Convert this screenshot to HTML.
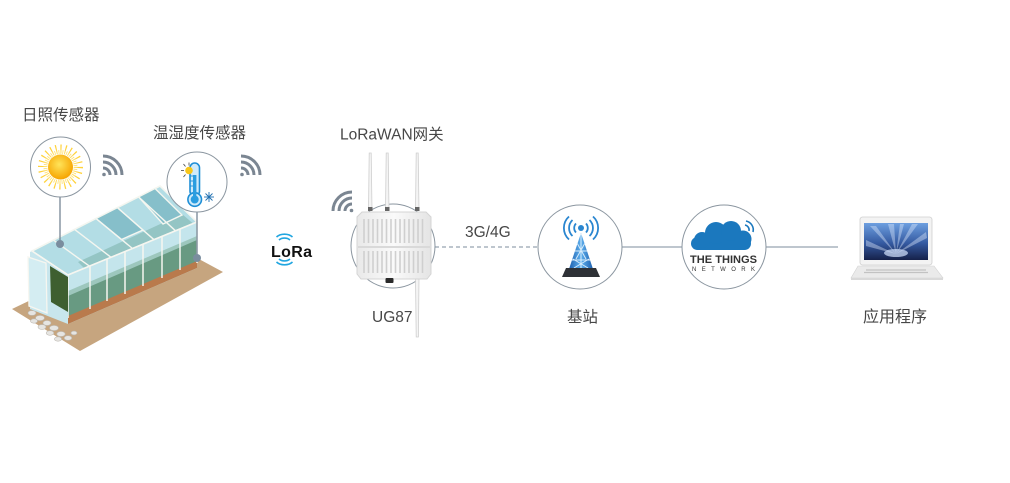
<!DOCTYPE html>
<html><head><meta charset="utf-8">
<style>
html,body{margin:0;padding:0;background:#fff;}
body{width:1010px;height:483px;overflow:hidden;}
svg{display:block;}
.t{font-family:"Liberation Sans","Noto Sans CJK SC",sans-serif;fill:#474747;font-size:15.5px;}
</style></head><body>
<svg width="1010" height="483" viewBox="0 0 1010 483" xmlns="http://www.w3.org/2000/svg">
<defs>
<radialGradient id="sunG" cx="0.45" cy="0.4" r="0.6"><stop offset="0" stop-color="#ffe45a"/><stop offset="1" stop-color="#f6a400"/></radialGradient>
<linearGradient id="scr" x1="0" y1="0" x2="0" y2="1"><stop offset="0" stop-color="#6d9fe0"/><stop offset="0.55" stop-color="#3459a0"/><stop offset="1" stop-color="#16214a"/></linearGradient>
<linearGradient id="tw" x1="0" y1="0" x2="1" y2="0"><stop offset="0" stop-color="#1d5fae"/><stop offset="0.5" stop-color="#5fb0ee"/><stop offset="1" stop-color="#1d5fae"/></linearGradient>
<linearGradient id="gw" x1="0" y1="0" x2="1" y2="0"><stop offset="0" stop-color="#e9e9e9"/><stop offset="0.5" stop-color="#fafafa"/><stop offset="1" stop-color="#e4e4e4"/></linearGradient>
</defs>

<!-- ===== Greenhouse ===== -->
<polygon points="12,309 80,351 223,272 160,238" fill="#c6a57f"/>
<g fill="#e6e5e2" stroke="#bdb9b2" stroke-width="0.6">
<ellipse cx="32" cy="313" rx="4" ry="2.4"/><ellipse cx="40" cy="318" rx="4.5" ry="2.6"/>
<ellipse cx="34" cy="321" rx="3.5" ry="2.2"/><ellipse cx="47" cy="323" rx="4" ry="2.5"/>
<ellipse cx="42" cy="327" rx="4" ry="2.4"/><ellipse cx="54" cy="328" rx="4.5" ry="2.6"/>
<ellipse cx="50" cy="333" rx="3.8" ry="2.3"/><ellipse cx="61" cy="334" rx="4.2" ry="2.5"/>
<ellipse cx="58" cy="339" rx="3.6" ry="2.2"/><ellipse cx="68" cy="338" rx="3.8" ry="2.3"/>
<ellipse cx="74" cy="333" rx="3" ry="1.9"/>
</g>
<!-- interior silhouette -->
<polygon points="30,252 160,186 197,222 197,268 68,324 30,309" fill="#c9e6ec"/>
<polygon points="78,262 182,214 196,226 92,276" fill="#4f8a6a" opacity="0.85"/>
<!-- roof -->
<polygon points="32,251 160,186 197,222 68,275" fill="#a9d8e2" fill-opacity="0.7" stroke="#f4f6f0" stroke-width="1.6"/>
<polygon points="96,218.5 117.4,207.6 143,230 121.5,239.5" fill="#86bfca" stroke="#f4f6f0" stroke-width="1.4"/>
<polygon points="138.6,196.9 155,188.5 182,215 163,224" fill="#86bfca" stroke="#f4f6f0" stroke-width="1.4"/>
<g stroke="#f4f6f0" stroke-width="1.4">
<line x1="53.4" y1="240.1" x2="89.5" y2="266.2"/>
<line x1="74.6" y1="229.4" x2="111" y2="257.3"/>
<line x1="96" y1="218.5" x2="132.5" y2="248.5"/>
<line x1="117.4" y1="207.6" x2="154" y2="239.7"/>
<line x1="138.6" y1="196.9" x2="175.5" y2="230.8"/>
</g>
<!-- front wall -->
<polygon points="68,275 197,222 197,268 68,324" fill="#bfe2e9"/>
<polygon points="68,293 197,238 197,262 68,317" fill="#4a8262"/>
<polygon points="68,291 197,236 197,240 68,296" fill="#8dbcae"/>
<polygon points="68,275 197,222 197,268 68,324" fill="#d8f1f6" opacity="0.22"/>
<polygon points="68,316 197,261 197,268 68,324" fill="#b97a4c"/>
<g stroke="#f6f6f0" stroke-width="1.5">
<line x1="68" y1="275" x2="68" y2="318"/>
<line x1="90" y1="266" x2="90" y2="309"/>
<line x1="107" y1="259" x2="107" y2="301"/>
<line x1="125" y1="251.6" x2="125" y2="294"/>
<line x1="143" y1="244.2" x2="143" y2="286"/>
<line x1="162" y1="236.4" x2="162" y2="278"/>
<line x1="180" y1="229" x2="180" y2="270"/>
<line x1="197" y1="222" x2="197" y2="263"/>
<line x1="68" y1="275" x2="197" y2="222"/>
</g>
<!-- gable end -->
<polygon points="32,251 68,275 68,320 30,309" fill="#c8e6ed"/>
<polygon points="50,266 68,277 68,312 51,302" fill="#3e5f30"/>
<polygon points="28,257 46,263 47,313 29,306" fill="#d4edf2" stroke="#f6f6f0" stroke-width="1.3"/>
<line x1="32" y1="251" x2="68" y2="275" stroke="#f6f6f0" stroke-width="1.6"/>

<!-- sensor connectors -->
<g stroke="#6a7c8c" stroke-width="1.2">
<line x1="60" y1="197" x2="60" y2="244"/>
<line x1="197" y1="212" x2="197" y2="258"/>
</g>
<circle cx="60" cy="244" r="4" fill="#7a8d9e"/>
<circle cx="197" cy="258" r="4" fill="#7a8d9e"/>

<!-- sun circle -->
<circle cx="60.5" cy="167" r="30" fill="#fff" stroke="#8b96a0" stroke-width="1"/>
<circle cx="60.5" cy="167" r="18" fill="none" stroke="#ffd23a" stroke-width="9" stroke-dasharray="1.1 3.6"/>
<circle cx="60.5" cy="167" r="15" fill="none" stroke="#ffe070" stroke-width="4" stroke-dasharray="0.8 1.16"/>
<circle cx="60.5" cy="167" r="12.5" fill="url(#sunG)"/>

<!-- thermometer circle -->
<circle cx="197" cy="182" r="30" fill="#fff" stroke="#8b96a0" stroke-width="1"/>
<rect x="190" y="163" width="9.5" height="33" rx="4.75" fill="#cfeafa" stroke="#1f8fd6" stroke-width="1.6"/>
<circle cx="194.7" cy="199.5" r="6.8" fill="#cfeafa" stroke="#1f8fd6" stroke-width="1.6"/>
<rect x="193" y="175" width="3.4" height="24" fill="#2a9de0"/>
<circle cx="194.7" cy="199.5" r="4" fill="#2a9de0"/>
<g stroke="#1f8fd6" stroke-width="0.9"><line x1="190" y1="176" x2="193" y2="176"/><line x1="190" y1="181" x2="193" y2="181"/><line x1="190" y1="186" x2="193" y2="186"/></g>
<circle cx="189" cy="170.5" r="3.8" fill="#f7c61a"/>
<g stroke="#444" stroke-width="0.8"><line x1="184" y1="170.5" x2="181" y2="170.5"/><line x1="185.5" y1="166.5" x2="183.5" y2="164"/><line x1="189" y1="165.5" x2="189" y2="162.5"/><line x1="185.5" y1="174.5" x2="183.5" y2="177"/></g>
<g stroke="#1f6fb0" stroke-width="0.9"><line x1="204" y1="197" x2="214" y2="197"/><line x1="209" y1="192" x2="209" y2="202"/><line x1="205.5" y1="193.5" x2="212.5" y2="200.5"/><line x1="212.5" y1="193.5" x2="205.5" y2="200.5"/></g>

<!-- sensor wifi icons -->
<g fill="none" stroke="#7b8692" stroke-width="3" stroke-linecap="butt">
<path d="M103,168 A7,7 0 0 1 110,175"/>
<path d="M103,162 A13,13 0 0 1 116,175"/>
<path d="M103,156 A19,19 0 0 1 122,175"/>
<path d="M241,168 A7,7 0 0 1 248,175"/>
<path d="M241,162 A13,13 0 0 1 254,175"/>
<path d="M241,156 A19,19 0 0 1 260,175"/>
</g>
<circle cx="104" cy="174.5" r="1.8" fill="#7b8692"/>
<circle cx="242" cy="174.5" r="1.8" fill="#7b8692"/>

<!-- LoRa logo -->
<g fill="none" stroke="#21a6e0" stroke-width="1.6">
<path d="M279,240 A7,5 0 0 1 290,240"/>
<path d="M276.5,237 A10,7 0 0 1 292.5,237"/>
<path d="M279,259 A7,5 0 0 0 290,259"/>
<path d="M276.5,262 A10,7 0 0 0 292.5,262"/>
</g>
<text x="271" y="257" font-family="Liberation Sans, sans-serif" font-weight="bold" font-size="16" fill="#111" textLength="41">LoRa</text>

<!-- gateway -->
<circle cx="393" cy="246" r="42" fill="#fff" stroke="#8b96a0" stroke-width="1"/>
<g fill="none" stroke="#7b8692" stroke-width="3">
<path d="M345,211 A7,7 0 0 1 352,204"/>
<path d="M339,211 A13,13 0 0 1 352,198"/>
<path d="M333,211 A19,19 0 0 1 352,192"/>
</g>
<circle cx="351.5" cy="210.5" r="1.8" fill="#7b8692"/>
<g fill="#f4f4f4" stroke="#cfcfcf" stroke-width="0.8">
<path d="M368.5,210 L369.2,153 L371.2,153 L372,210 Z"/>
<path d="M385.5,210 L386.2,153 L388.2,153 L389,210 Z"/>
<path d="M415.5,210 L416.2,153 L418.2,153 L419,210 Z"/>
<path d="M415.5,278 L419,278 L418.4,337 L416.2,337 Z"/>
</g>
<g fill="#666"><rect x="368" y="207" width="4.5" height="4"/><rect x="385" y="207" width="4.5" height="4"/><rect x="415" y="207" width="4.5" height="4"/></g>
<path d="M362,212 L426,212 L431,217 L431,274 L427,279 L361,279 L357,274 L357,217 Z" fill="url(#gw)" stroke="#d4d4d4" stroke-width="1"/>
<line x1="358" y1="247" x2="430" y2="247" stroke="#d9d9d9" stroke-width="2"/>
<g stroke="#cfcfcf" stroke-width="1.6">
<path d="M364,219 V243 M368.5,219 V243 M373,219 V243 M377.5,219 V243 M382,219 V243 M386.5,219 V243 M391,219 V243 M395.5,219 V243 M400,219 V243 M404.5,219 V243 M409,219 V243 M413.5,219 V243 M418,219 V243 M422.5,219 V243"/>
<path d="M364,251 V273 M368.5,251 V273 M373,251 V273 M377.5,251 V273 M382,251 V273 M386.5,251 V273 M391,251 V273 M395.5,251 V273 M400,251 V273 M404.5,251 V273 M409,251 V273 M413.5,251 V273 M418,251 V273 M422.5,251 V273"/>
</g>
<rect x="385.5" y="278" width="8" height="5" rx="1" fill="#2a2a2a"/>

<!-- connectors -->
<line x1="435" y1="247" x2="538" y2="247" stroke="#7d8e9e" stroke-width="1" stroke-dasharray="4 3"/>
<line x1="622" y1="247" x2="682" y2="247" stroke="#7d8e9e" stroke-width="1"/>
<line x1="765" y1="247" x2="838" y2="247" stroke="#7d8e9e" stroke-width="1"/>

<!-- base station -->
<circle cx="580" cy="247" r="42" fill="#fff" stroke="#8b96a0" stroke-width="1"/>
<polygon points="581,233 569,269 593,269" fill="url(#tw)"/>
<g stroke="#d8ecfb" stroke-width="1"><line x1="581" y1="234" x2="581" y2="268"/><line x1="575" y1="251" x2="587" y2="251"/><line x1="572" y1="260" x2="590" y2="260"/><line x1="577" y1="243" x2="586" y2="259"/><line x1="585" y1="243" x2="576" y2="259"/><line x1="573" y1="259" x2="588" y2="268"/><line x1="589" y1="259" x2="574" y2="268"/></g>
<polygon points="566,268 596,268 600,277 562,277" fill="#2e3136"/>
<circle cx="581" cy="228" r="3" fill="#2a86d0"/>
<g fill="none" stroke="#2a86d0" stroke-width="1.8">
<path d="M576,223.5 A6.5,6.5 0 0 0 576,232.5"/><path d="M572.5,220 A11,11 0 0 0 572.5,236"/><path d="M569,216.5 A15.5,15.5 0 0 0 569,239.5"/>
<path d="M586,223.5 A6.5,6.5 0 0 1 586,232.5"/><path d="M589.5,220 A11,11 0 0 1 589.5,236"/><path d="M593,216.5 A15.5,15.5 0 0 1 593,239.5"/>
</g>

<!-- TTN -->
<circle cx="724" cy="247" r="42" fill="#fff" stroke="#8b96a0" stroke-width="1"/>
<g fill="#1b78be">
<rect x="691" y="237" width="60" height="13" rx="6.5"/>
<circle cx="702" cy="240" r="8"/>
<circle cx="716" cy="233" r="11"/>
<circle cx="731" cy="231" r="10"/>
<circle cx="743" cy="239" r="8.5"/>
</g>
<g fill="none" stroke="#1b78be" stroke-width="1.6"><path d="M745,225 A5,5 0 0 1 749,231"/><path d="M746,221 A9,9 0 0 1 753,232"/></g>
<text x="690" y="263" font-family="Liberation Sans, sans-serif" font-weight="bold" font-size="11" fill="#333" textLength="67" lengthAdjust="spacingAndGlyphs">THE THINGS</text>
<text x="692" y="271" font-family="Liberation Sans, sans-serif" font-size="6" fill="#333" textLength="63" lengthAdjust="spacing">NETWORK</text>

<!-- laptop -->
<rect x="860" y="217" width="72" height="48" rx="2.5" fill="#f3f3f3" stroke="#cfcfcf" stroke-width="0.8"/>
<rect x="864" y="223" width="64" height="37" fill="url(#scr)"/>
<g fill="#e3eeff" opacity="0.4">
<polygon points="896,254 870,226 876,226"/><polygon points="896,254 888,224 894,224"/><polygon points="896,254 912,224 918,224"/><polygon points="896,254 926,232 927,238"/><polygon points="896,254 866,240 866,246"/><polygon points="896,254 900,224 904,224"/>
</g>
<ellipse cx="896" cy="253" rx="12" ry="4" fill="#d4e4ff" opacity="0.7"/>
<polygon points="858,266 934,266 943,278 851,278" fill="#eaeaea" stroke="#d2d2d2" stroke-width="0.6"/>
<g stroke="#c2c2c2" stroke-width="1.2"><line x1="866" y1="270" x2="926" y2="270"/><line x1="864" y1="272.5" x2="928" y2="272.5"/></g>
<rect x="851" y="278" width="92" height="2" fill="#d9d9d9"/>

<!-- labels -->
<text class="t" x="22" y="120">日照传感器</text>
<text class="t" x="153" y="138">温湿度传感器</text>
<text class="t" x="340" y="139.5">LoRaWAN网关</text>
<text class="t" x="465" y="237">3G/4G</text>
<text class="t" x="372" y="322">UG87</text>
<text class="t" x="567" y="322">基站</text>
<text class="t" x="863" y="322" style="font-size:16px">应用程序</text>
</svg>
</body></html>
